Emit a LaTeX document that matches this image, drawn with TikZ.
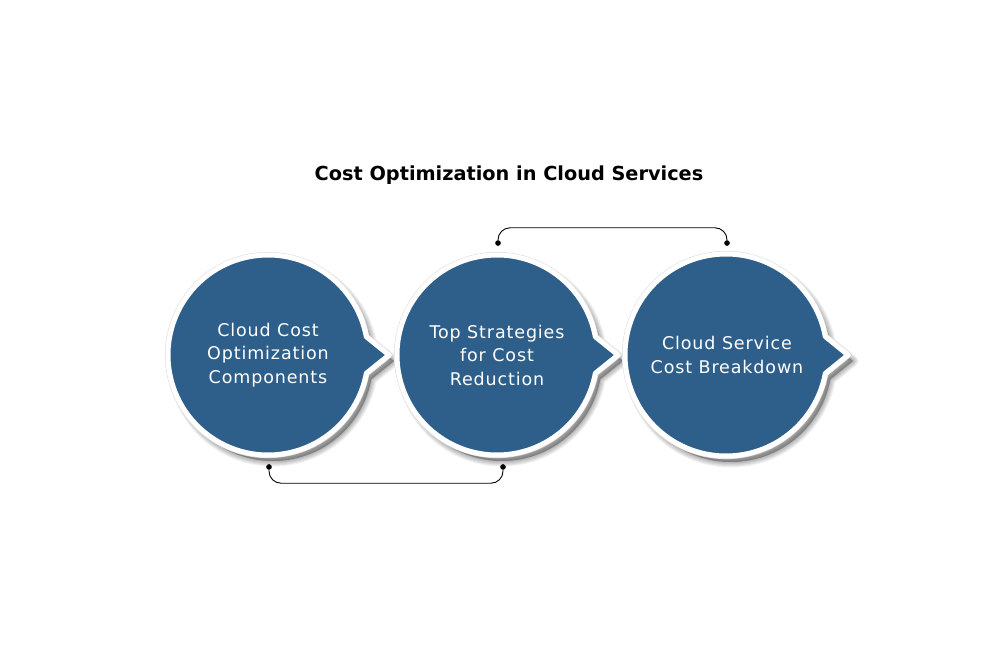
\documentclass[tikz,border=0pt]{standalone}
\usepackage{fontspec}
\setmainfont{DejaVu Sans}
\usetikzlibrary{arrows.meta,calc}
\definecolor{bubble}{RGB}{46,95,139}
\tikzset{
  bubble/.style={fill=bubble, draw=white, line width=5pt, line join=round},
  ring/.style={draw=black!12, line width=6.2pt, line join=round},
  shadowlayer/.style={fill=black, draw=black, opacity=0.055, line join=round},
  anchorcircle/.style={circle, minimum size=218pt, inner sep=0pt, text=white,
    font=\fontsize{17.5}{23.5}\selectfont\addfontfeatures{LetterSpace=5}, align=center},
  conn/.style={draw=black, line width=0.9pt, rounded corners=12pt, {Circle[length=5.5pt]}-{Circle[length=5.5pt]}},
}
\newcommand{\bubblepath}[2]{(#1,355) ++(-10.5:#2) arc[start angle=-10.5, end angle=-349.5, radius=#2]
    -- ($(#1,355)+(#2+21,0)$) -- cycle}
\newcommand{\bubbleshape}[2]{%
  \foreach \w in {1,3,5,7,9,11}{
    \path[shadowlayer, line width=\w pt, shift={(5,6)}] \bubblepath{#1}{#2};
  }
  \path[ring] \bubblepath{#1}{#2};
  \path[bubble] \bubblepath{#1}{#2};
}
\begin{document}
\begin{tikzpicture}[x=1pt,y=-1pt]
\useasboundingbox (0,0) rectangle (998,652);
\fill[white] (0,0) rectangle (998,652);
\node[font=\fontsize{19.3}{23}\selectfont\bfseries] (title) at (509,175) {Cost Optimization in Cloud Services};
\bubbleshape{268}{100}
\bubbleshape{497}{100}
\bubbleshape{726}{101}
\node[anchorcircle] (c1) at (268,355) {Cloud Cost\\Optimization\\Components};
\node[anchorcircle] (c2) at (497,355) {Top Strategies\\for Cost\\Reduction};
\node[anchorcircle] (c3) at (727,355) {Cloud Service\\Cost Breakdown};
\draw[conn] ([xshift=1pt]c2.north) -- ++(0,-18) -| (c3.north);
\draw[conn] ([xshift=1pt]c1.south) -- ++(0,19) -| ([xshift=6pt]c2.south);
\end{tikzpicture}
\end{document}
